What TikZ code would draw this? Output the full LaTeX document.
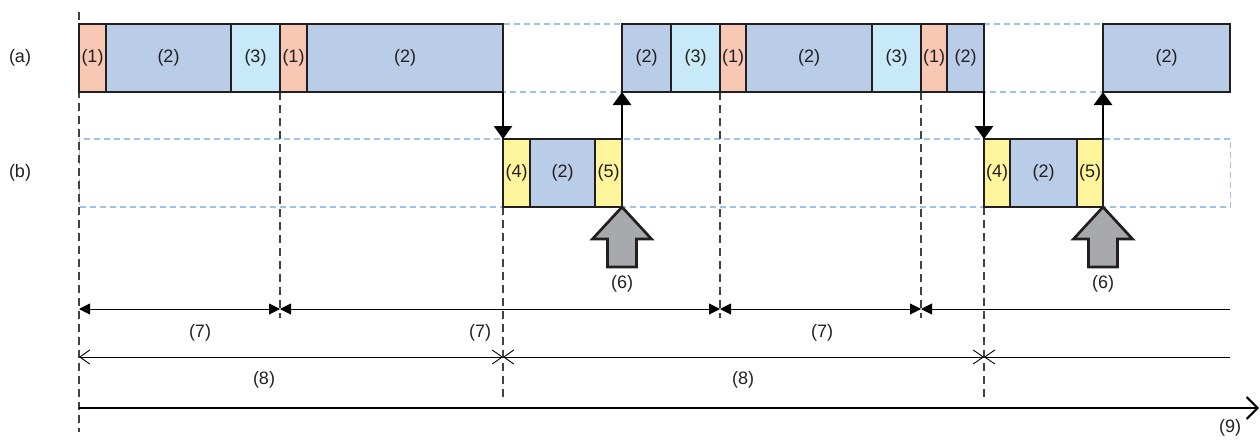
\documentclass[tikz,border=0pt]{standalone}
\usepackage{fontspec}
\setmainfont{Liberation Sans}
\usetikzlibrary{positioning,arrows.meta}
\definecolor{txtgray}{HTML}{231F20}
\definecolor{segred}{HTML}{F9C8B4}
\definecolor{segblue}{HTML}{B9CDE8}
\definecolor{segcyan}{HTML}{C7E9F8}
\definecolor{segyellow}{HTML}{FFF59D}
\definecolor{blockgray}{HTML}{A7A9AC}
\definecolor{laneblue}{HTML}{9DC3E6}
\tikzset{
  dimtip/.tip={Triangle[length=11pt,width=11pt]},
  bartip/.tip={Straight Barb[length=10pt,width=14pt]},
}
\begin{document}
\begin{tikzpicture}[x=1pt,y=-1pt,
  every node/.style={font=\fontsize{18}{21}\selectfont,text=txtgray},
  seg/.style={draw=txtgray,line width=1.3pt,inner sep=0pt,outer sep=0pt,minimum height=68pt,anchor=west},
  lanebox/.style={draw=laneblue,line width=1.2pt,dash pattern=on 6pt off 4pt,inner sep=0pt,minimum height=68pt,minimum width=1151pt,anchor=west},
  guide/.style={draw=txtgray!85,line width=1.1pt,dash pattern=on 8pt off 5pt},
  flow/.style={line width=2.8pt,-{Triangle[length=13pt,width=18pt]}},
  block/.style={fill=blockgray,draw=txtgray,line width=2.7pt,line join=miter},
  dimA/.style={line width=1pt},
  dimB/.style={line width=0.9pt}]
\useasboundingbox (0,0) rectangle (1260,439);
% Lanes
\node[lanebox] (laneA) at (79,58) {};
\node[lanebox] (laneB) at (79,173) {};
\node (la) at (20,58) {(a)};
\node (lb) at (20,173) {(b)};
% Guide lines
\draw[guide] (79,12) -- (79,432);
\draw[guide] (280,92) -- ++(0,226);
\draw[guide] (720,92) -- ++(0,226);
\draw[guide] (921,92) -- ++(0,226);
\draw[guide] (503,207) -- ++(0,190);
\draw[guide] (984,207) -- ++(0,190);
% Row (a)
\node[seg,fill=segred,minimum width=27pt] (a1) at (79,58) {(1)};
\node[seg,fill=segblue,minimum width=125pt,right=0pt of a1] (a2) {(2)};
\node[seg,fill=segcyan,minimum width=49pt,right=0pt of a2] (a3) {(3)};
\node[seg,fill=segred,minimum width=27pt,right=0pt of a3] (a4) {(1)};
\node[seg,fill=segblue,minimum width=196pt,right=0pt of a4] (a5) {(2)};
\node[seg,fill=segblue,minimum width=49pt] (a6) at (622,58) {(2)};
\node[seg,fill=segcyan,minimum width=49pt,right=0pt of a6] (a7) {(3)};
\node[seg,fill=segred,minimum width=26pt,right=0pt of a7] (a8) {(1)};
\node[seg,fill=segblue,minimum width=126pt,right=0pt of a8] (a9) {(2)};
\node[seg,fill=segcyan,minimum width=49pt,right=0pt of a9] (a10) {(3)};
\node[seg,fill=segred,minimum width=26pt,right=0pt of a10] (a11) {(1)};
\node[seg,fill=segblue,minimum width=37pt,right=0pt of a11] (a12) {(2)};
\node[seg,fill=segblue,minimum width=127pt] (a13) at (1103,58) {(2)};
% Row (b)
\node[seg,fill=segyellow,minimum width=27pt] (b1) at (503,173) {(4)};
\node[seg,fill=segblue,minimum width=65pt,right=0pt of b1] (b2) {(2)};
\node[seg,fill=segyellow,minimum width=27pt,right=0pt of b2] (b3) {(5)};
\node[seg,fill=segyellow,minimum width=26pt] (b4) at (984,173) {(4)};
\node[seg,fill=segblue,minimum width=67pt,right=0pt of b4] (b5) {(2)};
\node[seg,fill=segyellow,minimum width=26pt,right=0pt of b5] (b6) {(5)};
% Switching arrows
\draw[flow] (a5.south east) -- (b1.north west);
\draw[flow] (b3.north east) -- (a6.south west);
\draw[flow] (a12.south east) -- (b4.north west);
\draw[flow] (b6.north east) -- (a13.south west);
% Block arrows (6)
\draw[block] (b3.south east) -- ++(29.5,32) -- ++(-15,0) -- ++(0,28) -- ++(-29,0) -- ++(0,-28) -- ++(-15,0) -- cycle;
\draw[block] (b6.south east) -- ++(29.5,32) -- ++(-15,0) -- ++(0,28) -- ++(-29,0) -- ++(0,-28) -- ++(-15,0) -- cycle;
\node (l6a) at (622,284) {(6)};
\node (l6b) at (1103,284) {(6)};
% Dimension rows
\coordinate (p0) at (79,309);
\coordinate (p1) at (280,309);
\coordinate (p2) at (720,309);
\coordinate (p3) at (921,309);
\coordinate (p4) at (1230,309);
\draw[dimA,dimtip-dimtip] (p0) -- (p1);
\draw[dimA,dimtip-dimtip] (p1) -- (p2);
\draw[dimA,dimtip-dimtip] (p2) -- (p3);
\draw[dimA,dimtip-] (p3) -- (p4);
\node (l7a) at (200,333) {(7)};
\node (l7b) at (480,333) {(7)};
\node (l7c) at (822,333) {(7)};
\coordinate (q0) at (79,357);
\coordinate (q1) at (503,357);
\coordinate (q2) at (984,357);
\coordinate (q3) at (1230,357);
\draw[dimB,bartip-bartip] (q0) -- (q1);
\draw[dimB,bartip-bartip] (q1) -- (q2);
\draw[dimB,bartip-] (q2) -- (q3);
\node (l8a) at (264,380) {(8)};
\node (l8b) at (743,380) {(8)};
% Time axis
\coordinate (t0) at (79,408);
\coordinate (t1) at (1259,408);
\draw[line width=2pt,-{Straight Barb[length=11pt,width=22pt]}] (t0) -- (t1);
\node (l9) at (1230,428) {(9)};
\end{tikzpicture}
\end{document}
